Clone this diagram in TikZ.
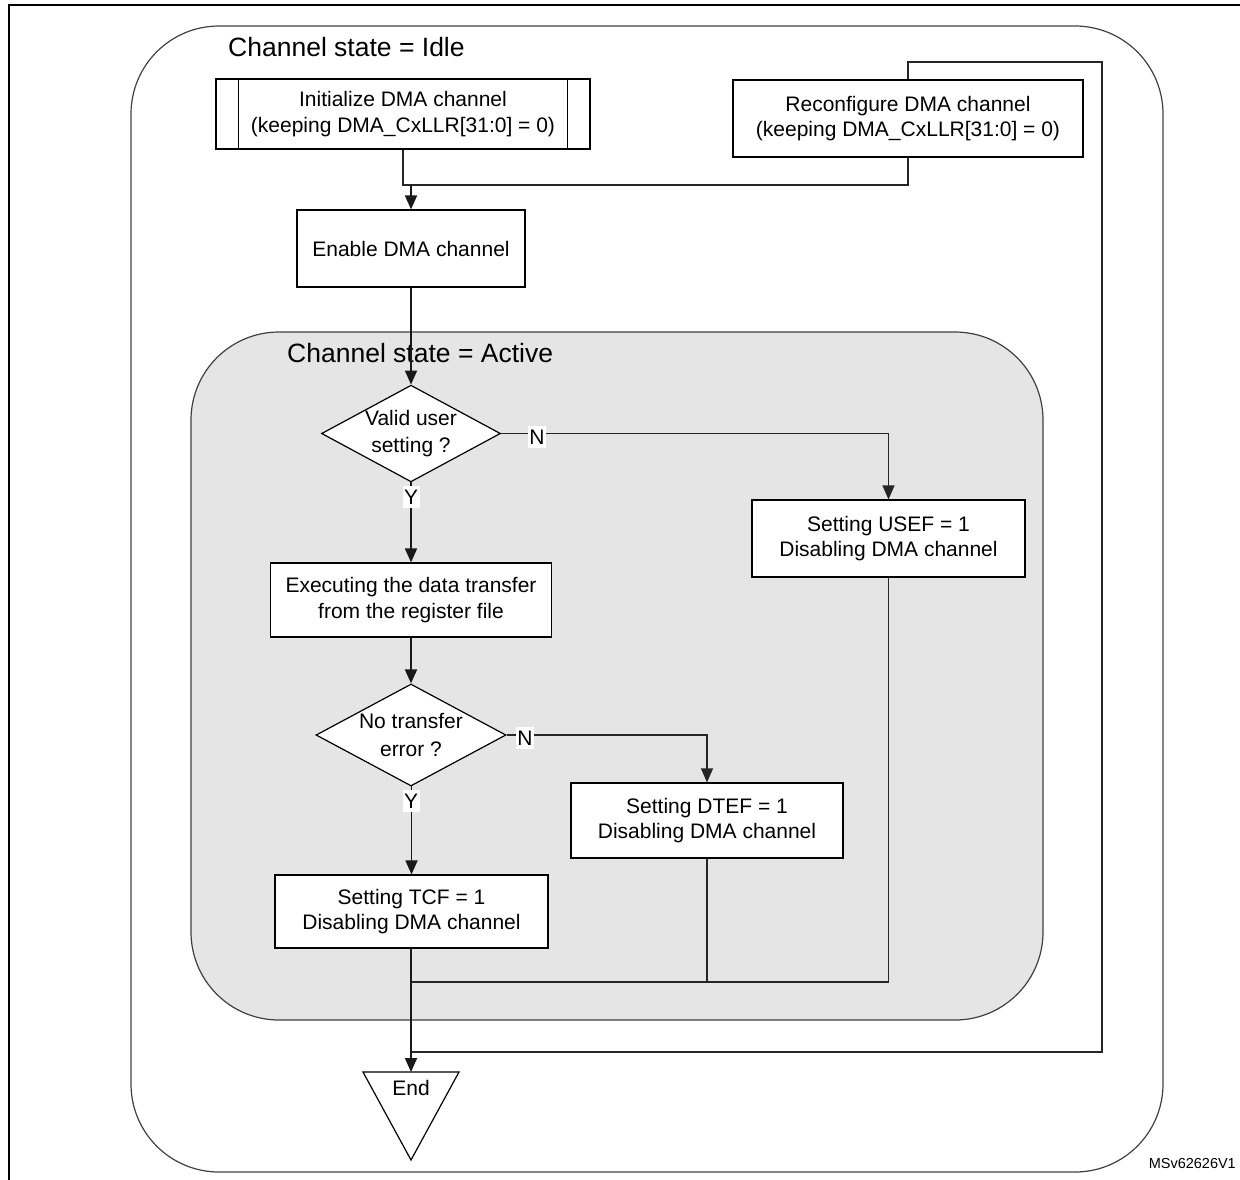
\documentclass[tikz,border=0pt]{standalone}
\usepackage{fontspec}
\setmainfont{Liberation Sans}
\usetikzlibrary{arrows.meta,shapes.geometric}
\begin{document}
\begin{tikzpicture}[x=1pt,y=-1pt,
  box/.style={draw=black, line width=1.2pt, fill=white, align=center,
    font=\fontsize{21}{25.5}\selectfont, inner sep=0pt},
  dec/.style={diamond, draw=black, line width=1.2pt, fill=white, align=center,
    inner sep=0pt, aspect=1.85, font=\fontsize{21}{27.5}\selectfont},
  yn/.style={fill=white, inner xsep=1.5pt, inner ysep=4pt, font=\fontsize{21}{21}\selectfont},
  flow/.style={draw=black!90, line width=1.8pt, -{Triangle[length=14pt,width=12pt]}},
  link/.style={draw=black!85, line width=1.2pt},
  statelbl/.style={font=\fontsize{26.5}{30}\selectfont, anchor=west, inner sep=0pt},
  region/.style={draw=black!75, line width=1.2pt, rounded corners=88pt},
]
\useasboundingbox (0,0) rectangle (1240,1179);
% page frame (cut)
\draw[line width=2pt] (9,1185) -- (9,5) -- (1245,5);

% state regions
\draw[region] (131,26) rectangle (1163,1172);
\draw[region, fill=black!10] (191,332) rectangle (1043,1020);
\node[statelbl] (idle) at (228,47) {Channel state = Idle};
\node[statelbl] (active) at (287,353) {Channel state = Active};

% nodes
\node[box, minimum width=374pt, minimum height=70pt] (init) at (403,114)
  {Initialize DMA channel\\(keeping DMA\_CxLLR[31:0] = 0)};
\draw[line width=1.2pt] ([xshift=23pt]init.north west) -- ([xshift=23pt]init.south west);
\draw[line width=1.2pt] ([xshift=-23pt]init.north east) -- ([xshift=-23pt]init.south east);
\node[box, minimum width=350pt, minimum height=77pt] (reconf) at (908,118.5)
  {Reconfigure DMA channel\\(keeping DMA\_CxLLR[31:0] = 0)};
\node[box, minimum width=228pt, minimum height=77pt] (enable) at (411,248.5)
  {Enable DMA channel};
\node[dec, minimum width=178pt, minimum height=96pt] (valid) at (411,433.5)
  {Valid user\\setting ?};
\node[box, minimum width=273pt, minimum height=77pt] (usef) at (888.5,538.5)
  {Setting USEF = 1\\Disabling DMA channel};
\node[box, minimum width=281pt, minimum height=74pt] (exec) at (411,600)
  {Executing the data transfer\\from the register file};
\node[dec, minimum width=190pt, minimum height=102pt] (noerr) at (411,735)
  {No transfer\\error ?};
\node[box, minimum width=272pt, minimum height=75pt] (dtef) at (707,820.5)
  {Setting DTEF = 1\\Disabling DMA channel};
\node[box, minimum width=273pt, minimum height=73pt] (tcf) at (411.5,911.5)
  {Setting TCF = 1\\Disabling DMA channel};

% end terminator
\coordinate (endtop) at (411,1072);
\draw[line width=1.2pt, fill=white] (363,1072) -- (459,1072) -- (411,1160) -- cycle;
\node[font=\fontsize{21}{21}\selectfont, inner sep=0pt] (endlbl) at (411,1088) {End};

% junction coordinates
\coordinate (j1) at (411,185);
\coordinate (lp) at (1102,62);
\coordinate (j3) at (411,1052);
\coordinate (j2) at (411,982);

% connectors
\draw[link] (init.south) |- (j1);
\draw[link] (reconf.south) |- (j1);
\draw[flow] (j1) -- (enable.north);
\draw[link] (reconf.north) |- (lp) |- (j3);
\draw[flow] (enable.south) -- (valid.north);
\draw[link, -{Triangle[length=14pt,width=12pt]}] (valid.east) -| (usef.north);
\draw[flow] (valid.south) -- (exec.north);
\draw[flow] (exec.south) -- (noerr.north);
\draw[link, -{Triangle[length=14pt,width=12pt]}] (noerr.east) -| (dtef.north);
\draw[flow] (noerr.south) -- (tcf.south |- noerr.south) -- (tcf.north);
\draw[link] (dtef.south) |- (j2);
\draw[link] (usef.south) |- (j2);
\draw[flow] (tcf.south -| endtop) -- (endtop);

% branch labels
\node[yn] (n1) at (537,437) {N};
\node[yn] (y1) at (411,497) {Y};
\node[yn] (n2) at (525,738) {N};
\node[yn] (y2) at (411,801) {Y};

\node[font=\fontsize{14.5}{16}\selectfont, anchor=east, inner sep=0pt] (ref) at (1236,1163) {MSv62626V1};
\end{tikzpicture}
\end{document}
